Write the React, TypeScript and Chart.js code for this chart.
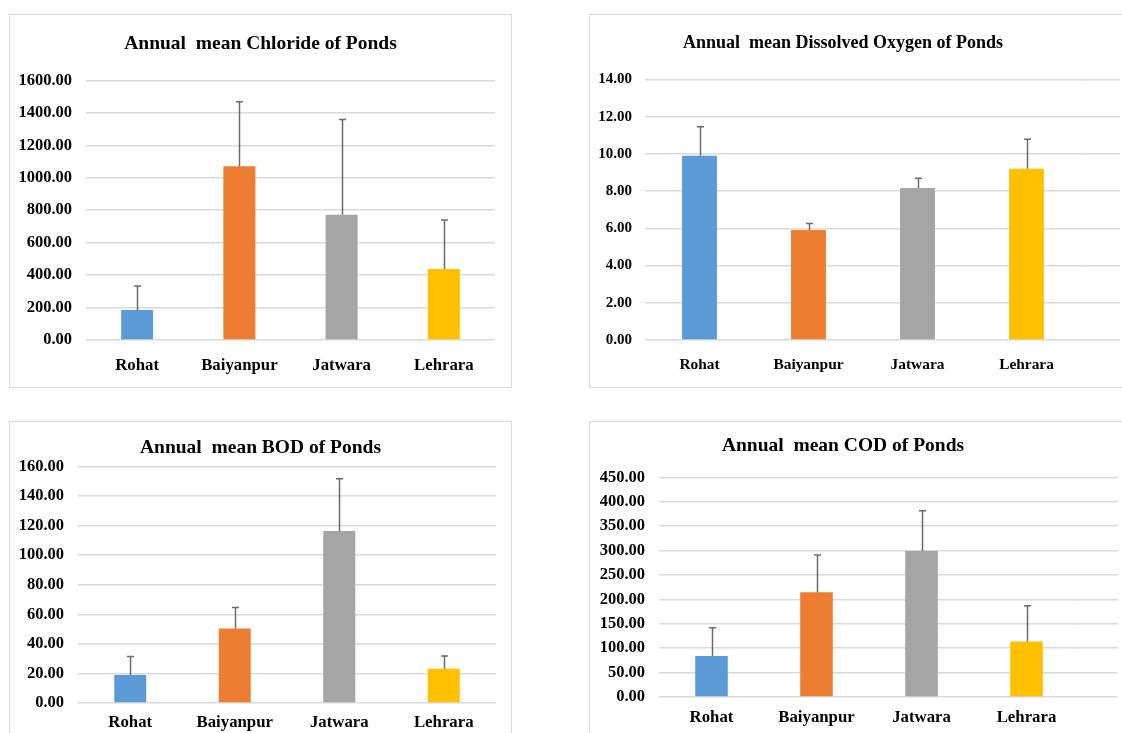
import React, { useEffect, useRef } from "react";
import { Chart, registerables } from "chart.js";

Chart.register(...registerables);

const categories = ["Rohat", "Baiyanpur", "Jatwara", "Lehrara"];
const barColors = ["#5B9BD5", "#ED7D31", "#A5A5A5", "#FFC000"];

const chlorideMeans = [185, 1071, 772, 437];
const chlorideErrors = [148, 397, 587, 302];

const oxygenMeans = [9.9, 5.91, 8.17, 9.21];
const oxygenErrors = [1.57, 0.36, 0.52, 1.58];

const bodMeans = [18.9, 50.3, 116.3, 23.2];
const bodErrors = [12.5, 14.2, 35.4, 8.6];

const codMeans = [84.2, 214.5, 299.3, 113.8];
const codErrors = [57.6, 76.6, 82.2, 73.2];

const FONT = "'Liberation Serif', 'Times New Roman', serif";
const GRID_W = 1.5;

type PanelCfg = {
  title: string;
  means: number[];
  errors: number[];
  max: number;
  step: number;
  left: number;
  top: number;
  width: number;
  height: number;
  yAxisWidth: number;
  tickPad: number;
  padRight: number;
  dummyWidth: number;
  titleTop: number;
  titleBottom: number;
  titleSize: number;
  xAxisHeight: number;
  xTickPad: number;
  tickSize: number;
  catSize: number;
  barPct: number;
  extendTo?: number;
};

const panels: PanelCfg[] = [
  {
    title: "Annual  mean Chloride of Ponds",
    means: chlorideMeans,
    errors: chlorideErrors,
    max: 1600,
    step: 200,
    left: 9,
    top: 14,
    width: 503,
    height: 374,
    yAxisWidth: 76,
    tickPad: 14,
    padRight: 0,
    dummyWidth: 16,
    titleTop: 17,
    titleBottom: 25,
    titleSize: 19.5,
    xAxisHeight: 47,
    xTickPad: 16,
    tickSize: 16.5,
    catSize: 16.8,
    barPct: 0.313,
  },
  {
    title: "Annual  mean Dissolved Oxygen of Ponds",
    means: oxygenMeans,
    errors: oxygenErrors,
    max: 14,
    step: 2,
    left: 589,
    top: 14,
    width: 535,
    height: 374,
    yAxisWidth: 55,
    tickPad: 13,
    padRight: 27,
    dummyWidth: 15,
    titleTop: 18,
    titleBottom: 25,
    titleSize: 18,
    xAxisHeight: 47,
    xTickPad: 16,
    tickSize: 15,
    catSize: 15.4,
    barPct: 0.32,
    extendTo: 530,
  },
  {
    title: "Annual  mean BOD of Ponds",
    means: bodMeans,
    errors: bodErrors,
    max: 160,
    step: 20,
    left: 9,
    top: 421,
    width: 503,
    height: 330,
    yAxisWidth: 68,
    tickPad: 14,
    padRight: 0,
    dummyWidth: 15,
    titleTop: 14,
    titleBottom: 7,
    titleSize: 19.5,
    xAxisHeight: 47,
    xTickPad: 10,
    tickSize: 16.5,
    catSize: 16.8,
    barPct: 0.306,
  },
  {
    title: "Annual  mean COD of Ponds",
    means: codMeans,
    errors: codErrors,
    max: 450,
    step: 50,
    left: 589,
    top: 421,
    width: 535,
    height: 330,
    yAxisWidth: 69,
    tickPad: 14,
    padRight: 27,
    dummyWidth: 17,
    titleTop: 12,
    titleBottom: 20,
    titleSize: 19.5,
    xAxisHeight: 53,
    xTickPad: 11,
    tickSize: 16.5,
    catSize: 16.8,
    barPct: 0.31,
    extendTo: 528,
  },
];

const errorBarPlugin = {
  id: "errorBarsCustom",
  afterDatasetsDraw(chart: any) {
    const ds: any = chart.data.datasets[0];
    const errs: number[] = ds.errors || [];
    const meta = chart.getDatasetMeta(0);
    const yScale = chart.scales.y;
    const ctx = chart.ctx;
    ctx.save();
    ctx.strokeStyle = "#6b6b6b";
    ctx.lineWidth = 1.5;
    meta.data.forEach((el: any, i: number) => {
      const v = ds.data[i] as number;
      const yTop = yScale.getPixelForValue(v + errs[i]);
      const x = Math.round(el.x) + 0.5;
      ctx.beginPath();
      ctx.moveTo(x, el.y);
      ctx.lineTo(x, yTop);
      ctx.moveTo(x - 3.5, yTop);
      ctx.lineTo(x + 3.5, yTop);
      ctx.stroke();
    });
    ctx.restore();
  },
};

const gridExtendPlugin = {
  id: "gridExtend",
  beforeDatasetsDraw(chart: any) {
    const ext = (chart.options.plugins as any).gridExtend?.to;
    if (!ext) return;
    const yScale = chart.scales.y;
    const ctx = chart.ctx;
    const half = GRID_W / 2;
    ctx.save();
    ctx.strokeStyle = "#d9d9d9";
    ctx.lineWidth = GRID_W;
    yScale.ticks.forEach((t: any) => {
      const raw = yScale.getPixelForValue(t.value);
      const y = Math.round(raw - half) + half;
      ctx.beginPath();
      ctx.moveTo(chart.chartArea.right - 1, y);
      ctx.lineTo(ext, y);
      ctx.stroke();
    });
    ctx.restore();
  },
};

function Panel({ cfg }: { cfg: PanelCfg }) {
  const ref = useRef<HTMLCanvasElement>(null);
  const cw = cfg.width - 2;
  const ch = cfg.height - 2;
  useEffect(() => {
    if (!ref.current) return;
    const chart = new Chart(ref.current, {
      type: "bar",
      data: {
        labels: categories,
        datasets: [
          {
            data: cfg.means,
            errors: cfg.errors,
            backgroundColor: barColors,
            borderWidth: 0,
            barPercentage: cfg.barPct,
            categoryPercentage: 1,
          } as any,
        ],
      },
      options: {
        responsive: false,
        maintainAspectRatio: false,
        animation: false,
        layout: { padding: { left: 0, right: cfg.padRight, top: 0, bottom: 0 } },
        plugins: {
          legend: { display: false },
          tooltip: { enabled: false },
          title: {
            display: true,
            text: cfg.title,
            color: "#000",
            font: { family: FONT, size: cfg.titleSize, weight: "bold" },
            padding: { top: cfg.titleTop, bottom: cfg.titleBottom },
          },
          gridExtend: { to: cfg.extendTo },
        } as any,
        scales: {
          x: {
            grid: { display: false, drawTicks: false },
            border: { display: false },
            ticks: {
              color: "#000",
              padding: cfg.xTickPad,
              font: { family: FONT, size: cfg.catSize, weight: "bold" },
              maxRotation: 0,
            },
            afterFit: (s: any) => {
              s.height = cfg.xAxisHeight;
            },
          },
          y: {
            min: 0,
            max: cfg.max,
            grid: { color: "#d9d9d9", lineWidth: GRID_W, drawTicks: false },
            border: { display: false },
            ticks: {
              stepSize: cfg.step,
              color: "#000",
              padding: cfg.tickPad,
              font: { family: FONT, size: cfg.tickSize, weight: "bold" },
              callback: (v: any) => Number(v).toFixed(2),
            },
            afterFit: (s: any) => {
              s.width = cfg.yAxisWidth;
            },
          },
          yR: {
            type: "linear",
            position: "right",
            display: true,
            grid: { display: false, drawTicks: false },
            border: { display: false },
            ticks: { display: false },
            afterFit: (s: any) => {
              s.width = cfg.dummyWidth;
            },
          },
        } as any,
      },
      plugins: [errorBarPlugin, gridExtendPlugin],
    });
    return () => chart.destroy();
  }, [cfg]);

  return (
    <div
      style={{
        position: "absolute",
        left: cfg.left,
        top: cfg.top,
        width: cfg.width,
        height: cfg.height,
        border: "1px solid #d9d9d9",
        boxSizing: "border-box",
        background: "#fff",
      }}
    >
      <canvas
        ref={ref}
        width={cw}
        height={ch}
        style={{ position: "absolute", left: 0, top: 0, width: cw, height: ch }}
      />
    </div>
  );
}

export default function App() {
  return (
    <div
      style={{
        position: "absolute",
        left: 0,
        top: 0,
        width: 1122,
        height: 733,
        overflow: "hidden",
        background: "#fff",
      }}
    >
      {panels.map((p, i) => (
        <Panel key={i} cfg={p} />
      ))}
    </div>
  );
}
